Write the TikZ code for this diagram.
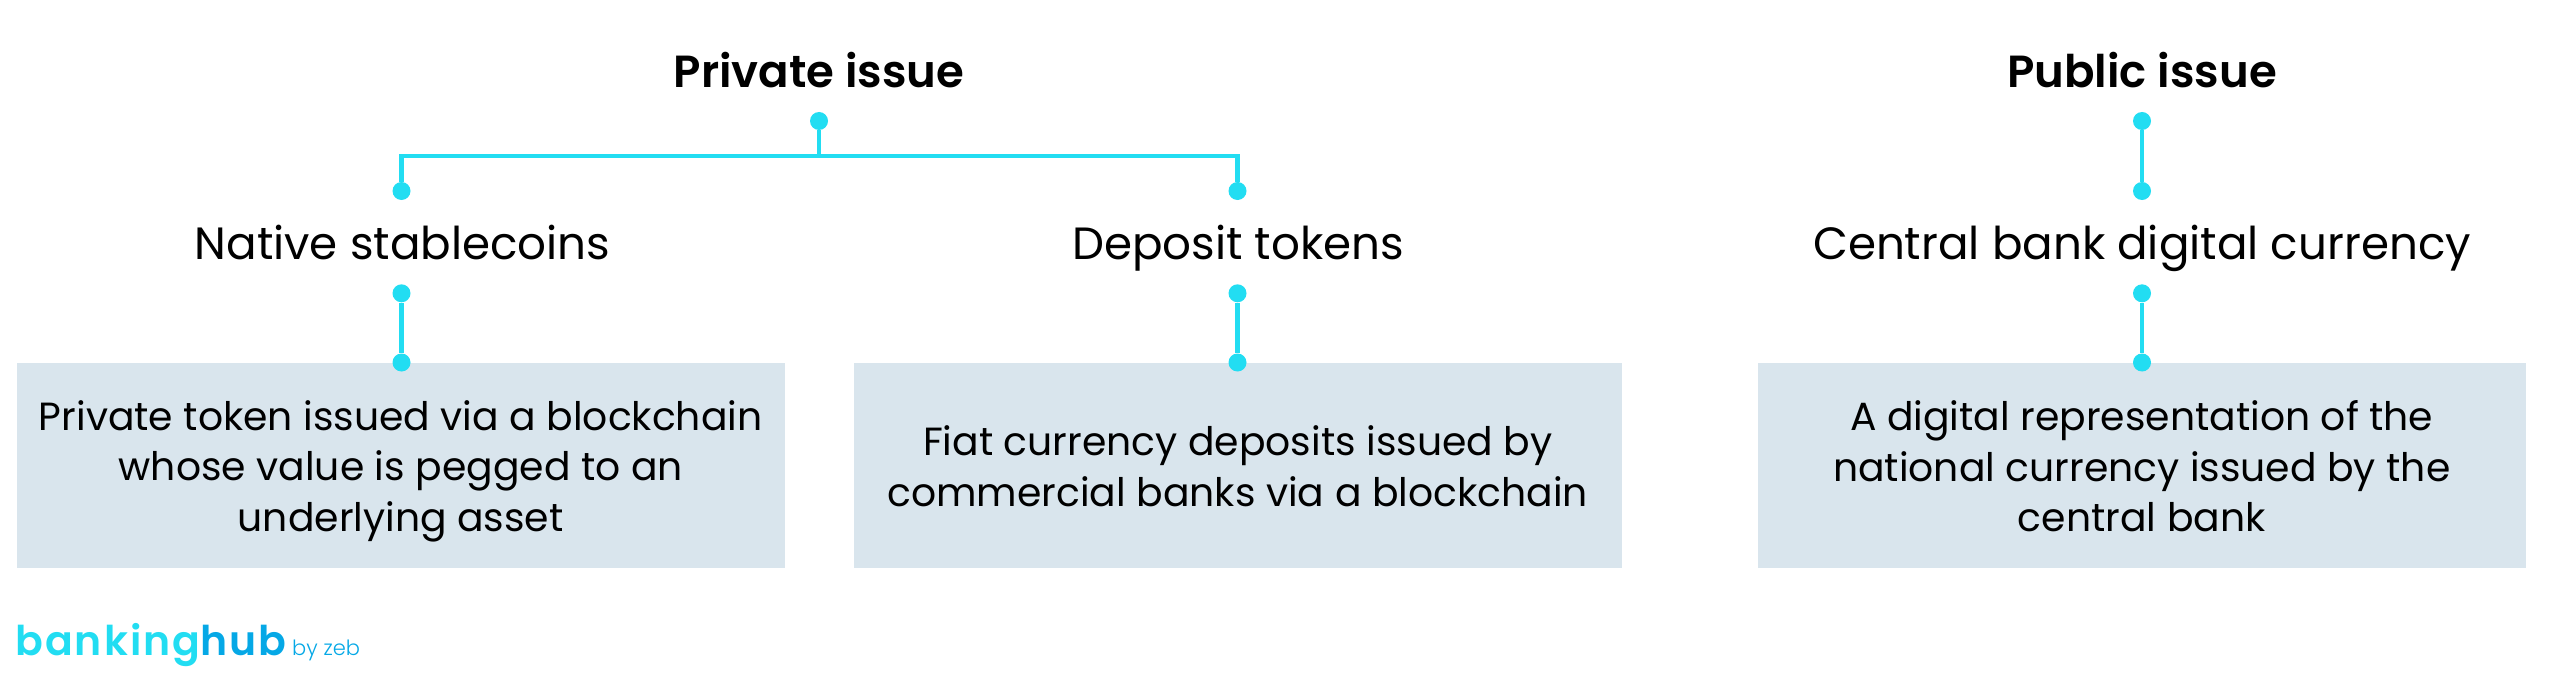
\documentclass[tikz,border=0pt]{standalone}
\usepackage{fontspec}
\setmainfont[BoldFont={Poppins SemiBold}]{Poppins}
\newfontfamily\logofont[LetterSpace=5]{Poppins SemiBold}
\newfontfamily\logolight{Poppins Light}
\definecolor{hubcyan}{HTML}{22DDF2}
\definecolor{hubblue}{HTML}{05A8E6}
\definecolor{boxfill}{HTML}{D9E5ED}
\newcommand{\boxtop}{\rule{0pt}{42pt}}
\newcommand{\boxbot}{\rule[-10pt]{0pt}{10pt}}
\tikzset{
  x=1pt,y=-1pt,
  headtext/.style={font=\fontsize{45}{54}\selectfont\bfseries,text=black,inner sep=0pt,anchor=base},
  subtext/.style={font=\fontsize{45.2}{54}\selectfont,text=black,inner sep=0pt,anchor=base},
  infobox/.style={fill=boxfill,minimum width=768pt,minimum height=205pt,inner sep=0pt,align=center,font=\fontsize{39.3}{50.5}\selectfont,text=black},
  dotnode/.style={circle,fill=hubcyan,minimum size=18pt,inner sep=0pt},
  link/.style={draw=hubcyan,line width=4.5pt},
}
\begin{document}
\begin{tikzpicture}
\useasboundingbox (0,0) rectangle (2560,682);
\node[headtext] (priv) at (819,87.5) {Private issue};
\node[headtext] (pub) at (2142,87.5) {Public issue};
\node[subtext] (nat) at (402.5,259) {Native stablecoins};
\node[subtext] (dep) at (1238,259) {Deposit tokens};
\node[subtext] (cbdc) at (2142,259) {Central bank digital currency};
\node[infobox] (b1) at (400.75,465.2) {\boxtop Private token issued via a blockchain\\whose value is pegged to an\\underlying asset\boxbot};
\node[infobox] (b2) at (1237.7,465.2) {\boxtop Fiat currency deposits issued by\\commercial banks via a blockchain\boxbot};
\node[infobox] (b3) at (2141.75,465.2) {\boxtop A digital representation of the\\national currency issued by the\\central bank\boxbot};
\node[dotnode] (d0) at (819,121) {};
\node[dotnode] (d1) at (401.5,191) {};
\node[dotnode] (d2) at (1237.5,191) {};
\node[dotnode] (d3) at (2142,121) {};
\node[dotnode] (d4) at (2142,191) {};
\node[dotnode] (d5) at (401.5,293.3) {};
\node[dotnode] (d6) at (401.5,362.5) {};
\node[dotnode] (d7) at (1237.5,293.3) {};
\node[dotnode] (d8) at (1237.5,362.5) {};
\node[dotnode] (d9) at (2142,293.3) {};
\node[dotnode] (d10) at (2142,362.5) {};
\coordinate (junction) at (819,156);
\draw[link] (d0) -- (junction);
\draw[link] (d1) |- (junction);
\draw[link] (d2) |- (junction);
\draw[link] (d3) -- (d4);
\draw[link] (d5) -- (d6);
\draw[link] (d7) -- (d8);
\draw[link] (d9) -- (d10);
\node[inner sep=0pt,anchor=base west,font=\logofont\fontsize{41}{41}\selectfont] (logo) at (15,655) {\textcolor{hubcyan}{banking}\textcolor{hubblue}{hub}};
\node[inner sep=0pt,anchor=base west,font=\logolight\fontsize{21}{21}\selectfont,text=hubblue] (by) at (292,655) {by zeb};
\end{tikzpicture}
\end{document}
